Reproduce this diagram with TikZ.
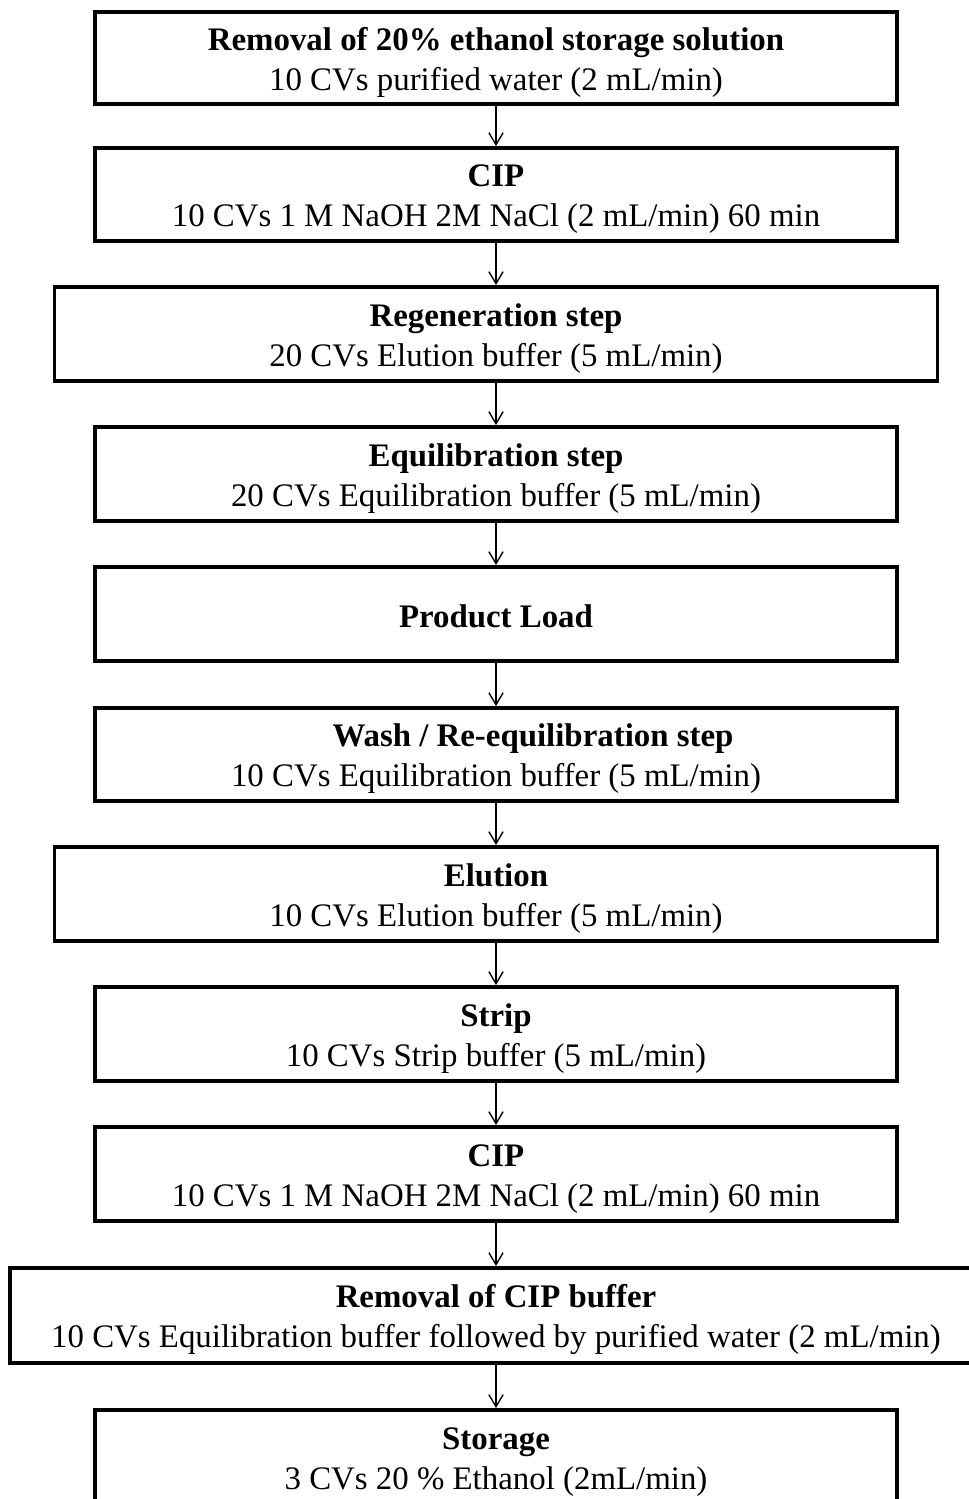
\documentclass[tikz,border=0pt]{standalone}
\usepackage{fontspec}
\setmainfont{Liberation Serif}
\usetikzlibrary{arrows.meta}

\begin{document}
\begin{tikzpicture}[%
    x=0.365pt,
    y=-0.365pt,
    block/.style={
      rectangle,
      draw=black,
      line width=1.45pt,
      align=center,
      inner sep=0pt,
      minimum width=292.7pt,
      minimum height=34.3pt,
      text height=23.4pt,
      text depth=0pt,
      font=\fontsize{12pt}{14.6pt}\selectfont
    },
    wideblock/.style={
      block,
      minimum width=322.3pt
    },
    line/.style={
      draw,
      line width=0.5pt,
      -{Straight Barb[length=4.4pt,width=5.2pt]}
    }
  ]
    \useasboundingbox (0,0) rectangle (968,1499);
    \draw (496,58) node[block,minimum height=33.6pt] (A) {\textbf{Removal of 20\% ethanol storage solution}\\10 CVs purified water (2 mL/min)};
    \draw (496,194.5) node[block,minimum height=33.9pt] (B) {\textbf{CIP}\\10 CVs 1 M NaOH 2M NaCl (2 mL/min) 60 min};
    \draw (496,334) node[wideblock] (C) {\textbf{Regeneration step}\\20 CVs Elution buffer (5 mL/min)};
    \draw (496,474) node[block] (D) {\textbf{Equilibration step}\\20 CVs Equilibration buffer (5 mL/min)};
    \draw (496,614) node[block,text height=10.2pt] (E) {\textbf{Product Load}};
    \draw (496,754.5) node[block,minimum height=33.9pt] (F) {\hspace*{27pt}\textbf{Wash / Re-equilibration step}\\10 CVs Equilibration buffer (5 mL/min)};
    \draw (496,894) node[wideblock] (G) {\textbf{Elution}\\10 CVs Elution buffer (5 mL/min)};
    \draw (496,1034) node[block] (H) {\textbf{Strip}\\10 CVs Strip buffer (5 mL/min)};
    \draw (496,1174) node[block] (I) {\textbf{CIP}\\10 CVs 1 M NaOH 2M NaCl (2 mL/min) 60 min};
    \draw (496,1315.5) node[block,minimum width=354.8pt,minimum height=34.7pt] (J) {\textbf{Removal of CIP buffer}\\10 CVs Equilibration buffer followed by purified water (2 mL/min)};
    \draw (496,1457) node[block] (K) {\textbf{Storage}\\3 CVs 20 \% Ethanol (2mL/min)};
    \path[line] (A) -- (B);
    \path[line] (B) -- (C);
    \path[line] (C) -- (D);
    \path[line] (D) -- (E);
    \path[line] (E) -- (F);
    \path[line] (F) -- (G);
    \path[line] (G) -- (H);
    \path[line] (H) -- (I);
    \path[line] (I) -- (J);
    \path[line] (J) -- (K);
  \end{tikzpicture}
\end{document}
